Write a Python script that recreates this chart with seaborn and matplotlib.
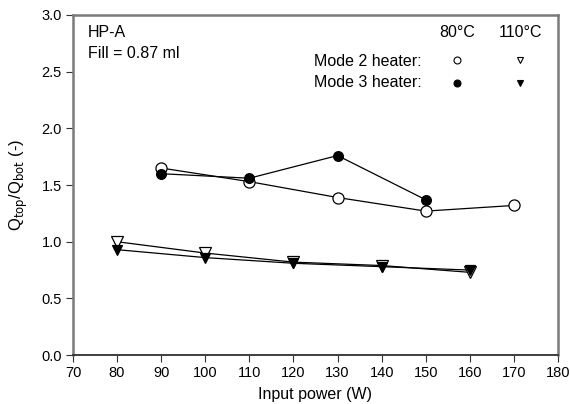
import matplotlib
matplotlib.use("Agg")
import matplotlib.pyplot as plt
import seaborn as sns
import pandas as pd

# Heat split ratio Q_top/Q_bot versus input power, HP-A
power_80 = [90, 110, 130, 150, 170]
mode2_80 = [1.65, 1.53, 1.39, 1.27, 1.32]
power_80_m3 = [90, 110, 130, 150]
mode3_80 = [1.60, 1.56, 1.76, 1.37]

power_110 = [80, 100, 120, 140, 160]
mode2_110 = [1.00, 0.90, 0.82, 0.79, 0.73]
mode3_110 = [0.93, 0.86, 0.81, 0.78, 0.75]

x_ticks = [70, 80, 90, 100, 110, 120, 130, 140, 150, 160, 170, 180]
y_ticks = [0.0, 0.5, 1.0, 1.5, 2.0, 2.5, 3.0]

sns.set_style("ticks")
plt.rcParams["font.family"] = ["Liberation Sans", "DejaVu Sans"]
plt.rcParams["text.color"] = "black"
plt.rcParams["axes.labelcolor"] = "black"
plt.rcParams["xtick.color"] = "black"
plt.rcParams["ytick.color"] = "black"

fig = plt.figure(figsize=(5.7, 4.04), dpi=100)
ax = fig.add_axes([0.128, 0.121, 0.851, 0.842])

series = [
    (power_80, mode2_80, "o", "white", 8),
    (power_80_m3, mode3_80, "o", "black", 7),
    (power_110, mode2_110, "v", "white", 8.5),
    (power_110, mode3_110, "v", "black", 6.5),
]
for xs, ys, mk, fc, ms in series:
    df = pd.DataFrame({"power": xs, "ratio": ys})
    sns.lineplot(data=df, x="power", y="ratio", ax=ax, color="black",
                 linewidth=0.9, marker=mk, markersize=ms,
                 markerfacecolor=fc, markeredgecolor="black",
                 markeredgewidth=0.9, zorder=3)

ax.set_xlim(70, 180)
ax.set_ylim(0, 3.0)
ax.set_xticks(x_ticks)
ax.set_yticks(y_ticks)
ax.set_xticklabels([str(t) for t in x_ticks])
ax.set_yticklabels([f"{t:.1f}" for t in y_ticks])
ax.tick_params(axis="both", direction="out", length=5, width=0.8,
               color="#333333", labelcolor="black", labelsize=10.5, pad=3)

for side in ["left", "right", "top"]:
    ax.spines[side].set_visible(True)
    ax.spines[side].set_color("#7a7a7a")
    ax.spines[side].set_linewidth(1.8)
ax.spines["bottom"].set_color("#303030")
ax.spines["bottom"].set_linewidth(1.3)

ax.set_xlabel("Input power (W)", fontsize=11.5, labelpad=5, color="black")
ax.set_ylabel(r"Q$_{\mathrm{top}}$/Q$_{\mathrm{bot}}$ (-)", fontsize=12,
              labelpad=8, color="black")


def axpos(px, py):
    return ((px - 73) / 485, (355 - py) / 340)


tfont = dict(fontsize=11.5, color="black", transform=ax.transAxes)
ax.text(*axpos(88, 33), "HP-A", ha="left", va="center", **tfont)
ax.text(*axpos(88, 54), "Fill = 0.87 ml", ha="left", va="center", **tfont)
ax.text(*axpos(457, 33), "80°C", ha="center", va="center", **tfont)
ax.text(*axpos(520, 33), "110°C", ha="center", va="center", **tfont)
ax.text(*axpos(422, 62), "Mode 2 heater:", ha="right", va="center", **tfont)
ax.text(*axpos(422, 83), "Mode 3 heater:", ha="right", va="center", **tfont)

legend_marks = [
    (457, 60, "o", "white"),
    (520, 60, "v", "white"),
    (457, 83, "o", "black"),
    (520, 83, "v", "black"),
]
for px, py, mk, fc in legend_marks:
    ax.plot(*axpos(px, py), marker=mk, markersize=5, markerfacecolor=fc,
            markeredgecolor="black", markeredgewidth=0.8,
            transform=ax.transAxes, clip_on=False, linestyle="none")

fig.savefig("out.png", dpi=100)
